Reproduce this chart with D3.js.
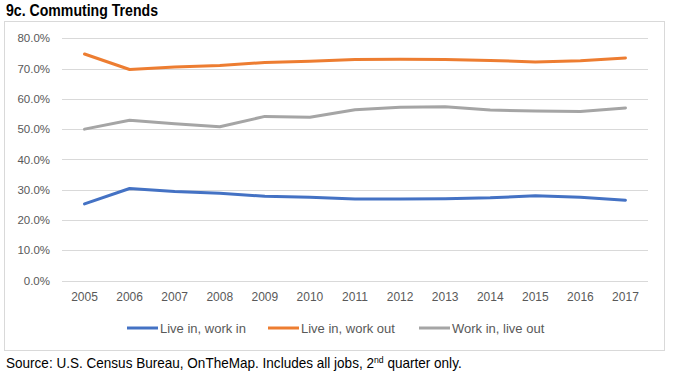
<!DOCTYPE html>
<html><head><meta charset="utf-8">
<script src="https://cdn.jsdelivr.net/npm/d3@7"></script>
<style>body{margin:0;background:#fff}svg{display:block}</style>
</head><body>
<script>
const years = ["2005","2006","2007","2008","2009","2010","2011","2012","2013","2014","2015","2016","2017"];
const liveInWorkIn  = [25.3,30.4,29.4,28.8,27.8,27.5,26.9,26.9,27.0,27.3,28.0,27.5,26.5];
const liveInWorkOut = [74.8,69.7,70.5,71.0,72.0,72.4,73.0,73.1,73.0,72.7,72.2,72.6,73.5];
const workInLiveOut = [50.0,52.9,51.8,50.8,54.2,53.9,56.4,57.2,57.4,56.3,56.0,55.8,57.0];
const seriesNames = ["Live in, work in","Live in, work out","Work in, live out"];
const seriesColors = ["#4472C4","#ED7D31","#A5A5A5"];
const yTicks = [0,10,20,30,40,50,60,70,80];

const W=673,H=378;
const svg=d3.select("body").append("svg").attr("width",W).attr("height",H);
const font="'Liberation Sans', Arial, sans-serif";

// title
svg.append("text").attr("x",6).attr("y",16).attr("font-family",font).attr("font-weight","bold")
  .attr("font-size",16).attr("fill","#000").attr("textLength",152).attr("lengthAdjust","spacingAndGlyphs")
  .text("9c.  Commuting Trends");

// border
svg.append("rect").attr("x",4.5).attr("y",21.5).attr("width",660).attr("height",329)
  .attr("fill","#fff").attr("stroke","#d9d9d9").attr("stroke-width",1);

const x=d3.scaleBand().domain(years).range([62,648]);
const y=d3.scaleLinear().domain([0,80]).range([280.5,38.3]);

// gridlines
svg.append("g").selectAll("line").data(yTicks).join("line")
  .attr("x1",62).attr("x2",648).attr("y1",d=>Math.round(y(d))+0.5).attr("y2",d=>Math.round(y(d))+0.5)
  .attr("stroke","#d9d9d9").attr("stroke-width",1);

// y axis labels
const yAxis=d3.axisLeft(y).tickValues(yTicks).tickSize(0).tickPadding(0).tickFormat(d=>d.toFixed(1)+"%");
const ga=svg.append("g").attr("transform","translate(50,0)").call(yAxis);
ga.select(".domain").remove();
ga.selectAll("text").attr("font-family",font).attr("font-size",11.5).attr("fill","#595959");

// x axis labels
const xAxis=d3.axisBottom(x).tickSize(0).tickPadding(0);
const gx=svg.append("g").attr("transform","translate(0,292)").call(xAxis);
gx.select(".domain").remove();
gx.selectAll("text").attr("font-family",font).attr("font-size",12).attr("fill","#595959");

// lines
const data=[liveInWorkIn,liveInWorkOut,workInLiveOut];
const line=d3.line().x((d,i)=>x(years[i])+x.bandwidth()/2).y(d=>y(d));
svg.append("g").selectAll("path").data(data).join("path")
  .attr("d",line).attr("fill","none").attr("stroke",(d,i)=>seriesColors[i])
  .attr("stroke-width",3).attr("stroke-linejoin","round").attr("stroke-linecap","round");

// legend
const legX=[127,268,419];
const lg=svg.append("g").selectAll("g").data(seriesNames).join("g")
  .attr("transform",(d,i)=>`translate(${legX[i]},328)`);
lg.append("line").attr("x1",0).attr("x2",31).attr("y1",0).attr("y2",0)
  .attr("stroke",(d,i)=>seriesColors[i]).attr("stroke-width",3);
lg.append("text").attr("x",33).attr("y",4.5).attr("font-family",font).attr("font-size",13)
  .attr("fill","#595959").text(d=>d);

// source
const src=svg.append("text").attr("x",6).attr("y",368).attr("font-family",font).attr("font-size",14)
  .attr("fill","#000");
src.append("tspan").text("Source: U.S. Census Bureau, OnTheMap. Includes all jobs, 2");
src.append("tspan").attr("font-size",9).attr("dy",-5).text("nd");
src.append("tspan").attr("dy",5).text(" quarter only.");
const bb=src.node().getComputedTextLength();
src.attr("transform",`translate(6,0) scale(${456/bb},1) translate(-6,0)`);
</script>
</body></html>
